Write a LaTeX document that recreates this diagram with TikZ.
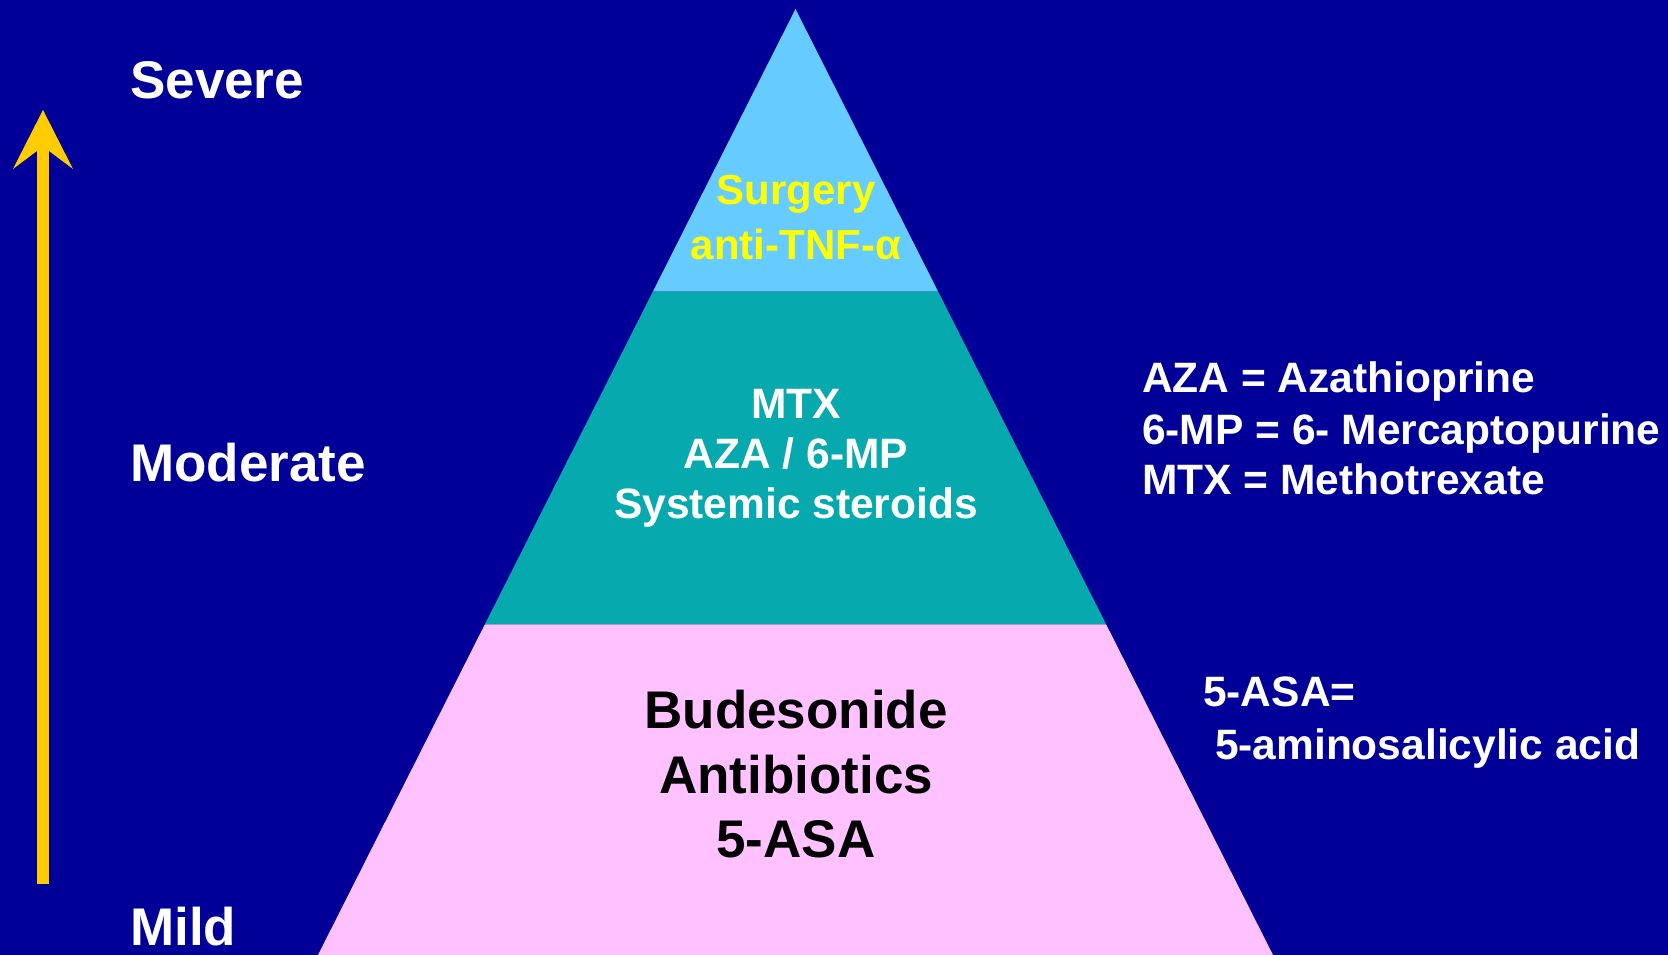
\documentclass[tikz,border=0pt]{standalone}
\usepackage{fontspec}
\setmainfont{Liberation Sans}
\definecolor{navy}{RGB}{0,0,153}
\definecolor{sky}{RGB}{102,204,255}
\definecolor{tealband}{RGB}{6,169,173}
\definecolor{pinkband}{RGB}{255,193,255}
\definecolor{gold}{RGB}{255,204,0}
\definecolor{surgyellow}{RGB}{255,255,0}
\begin{document}
\begin{tikzpicture}[x=1pt,y=1pt,
  sevlbl/.style={inner sep=0pt, anchor=base west, text=white, font=\fontsize{53}{60}\selectfont\bfseries},
  midtxt/.style={inner sep=0pt, anchor=base, text=white, font=\fontsize{42.5}{50}\selectfont\bfseries},
  toptxt/.style={inner sep=0pt, anchor=base, text=surgyellow, font=\fontsize{42}{50}\selectfont\bfseries},
  bottxt/.style={inner sep=0pt, anchor=base, text=black, font=\fontsize{53}{60}\selectfont\bfseries},
  legtxt/.style={inner sep=0pt, anchor=base west, text=white, font=\fontsize{42.5}{50}\selectfont\bfseries}]
% background / bounding box
\fill[navy] (0,0) rectangle (1668,955);
\useasboundingbox (0,0) rectangle (1668,955);
% pyramid corners
\coordinate (apex) at (795.5,946);
\coordinate (b1l) at (652.8,663.3);
\coordinate (b1r) at (938.2,663.3);
\coordinate (b2l) at (484.9,330.7);
\coordinate (b2r) at (1106.1,330.7);
\coordinate (b3l) at (318,0);
\coordinate (b3r) at (1273,0);
\fill[sky] (apex) -- (b1r) -- (b1l) -- cycle;
\fill[tealband] (b1l) -- (b1r) -- (b2r) -- (b2l) -- cycle;
\fill[pinkband] (b2l) -- (b2r) -- (b3r) -- (b3l) -- cycle;
% severity arrow
\coordinate (abot) at (43,71);
\coordinate (aneck) at (43,812);
\coordinate (atip) at (43,845);
\coordinate (abarbl) at (13,786);
\coordinate (abarbr) at (73,786);
\coordinate (ainner) at (43,808.5);
\draw[gold, line width=12pt] (abot) -- (aneck);
\fill[gold] (atip) -- (abarbr) -- (ainner) -- (abarbl) -- cycle;
% severity labels
\node[sevlbl] (severe) at (130,856) {Severe};
\node[sevlbl] (moderate) at (130,473.3) {Moderate};
\node[sevlbl] (mild) at (130,9) {Mild};
% top band
\node[toptxt] (surg) at (796,750) {Surgery};
\node[toptxt] (antitnf) at (796,695) {anti-TNF-α};
% middle band
\node[midtxt] (mtx) at (796,536.7) {MTX};
\node[midtxt] (aza) at (796,486) {AZA / 6-MP};
\node[midtxt] (steroids) at (796,436) {Systemic steroids};
% bottom band
\node[bottxt] (budes) at (796,226) {Budesonide};
\node[bottxt] (antib) at (796,161.7) {Antibiotics};
\node[bottxt] (asa) at (796,97.7) {5-ASA};
% legends
\node[legtxt] (leg1) at (1142,562) {AZA = Azathioprine};
\node[legtxt] (leg2) at (1142,510) {6-MP = 6- Mercaptopurine};
\node[legtxt] (leg3) at (1142,460) {MTX = Methotrexate};
\node[legtxt] (leg4) at (1203,248) {5-ASA=};
\node[legtxt] (leg5) at (1203,195) {~5-aminosalicylic acid};
\end{tikzpicture}
\end{document}
